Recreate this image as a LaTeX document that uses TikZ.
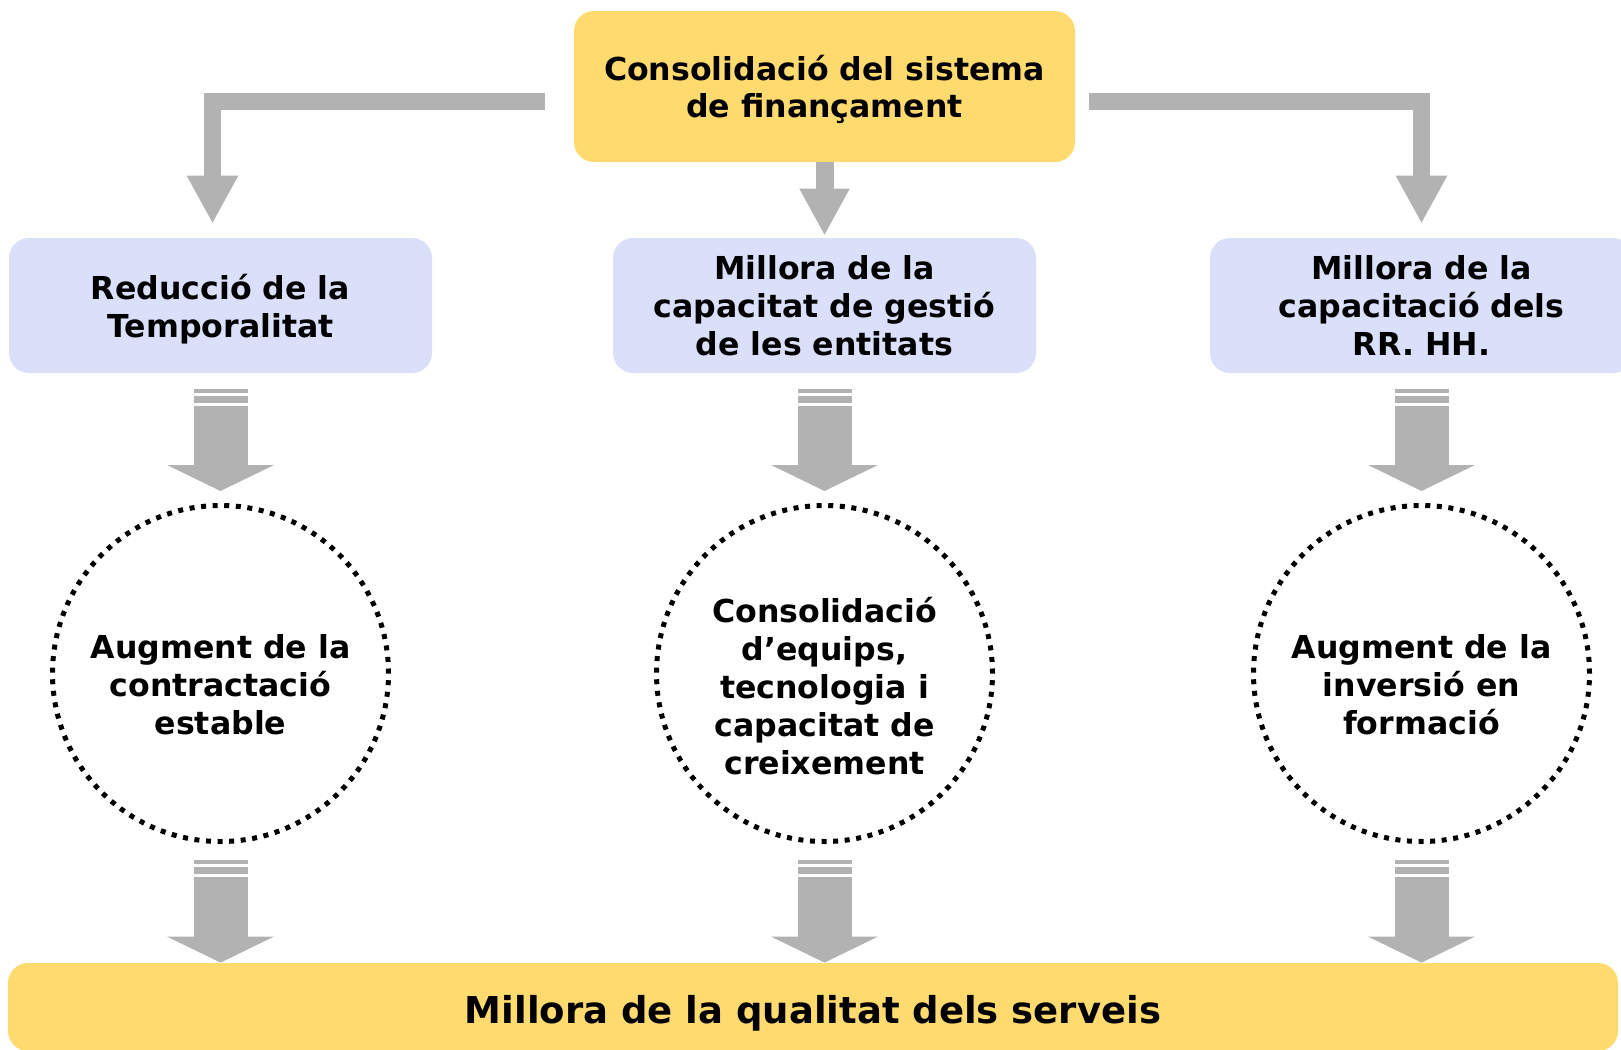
\documentclass[tikz,border=0pt]{standalone}
\usepackage{fontspec}
\setmainfont{DejaVu Sans}
\usetikzlibrary{positioning,arrows.meta}

\definecolor{goalyellow}{HTML}{FFDB6F}
\definecolor{axisblue}{HTML}{DAE0FA}
\definecolor{arrowgray}{HTML}{B2B2B2}

\begin{document}
\begin{tikzpicture}[x = 0.5pt, y = -0.5pt, on grid,
                    font = \bfseries\fontsize{15.8}{19}\selectfont,
                    goal/.style   = {rectangle,
                                     rounded corners = 10pt,
                                     fill = goalyellow,
                                     text = black,
                                     align = center,
                                     inner sep = 0pt,
                                     text depth = 0pt},
                    axis/.style   = {rectangle,
                                     rounded corners = 10pt,
                                     fill = axisblue,
                                     text = black,
                                     align = center,
                                     inner sep = 0pt,
                                     text depth = 0pt,
                                     minimum width = 211.5pt,
                                     minimum height = 67.5pt},
                    effect/.style = {circle,
                                     draw = black,
                                     line width = 2.5pt,
                                     dash pattern = on 2.5pt off 3.3pt,
                                     align = center,
                                     inner sep = 0pt,
                                     text depth = 0pt,
                                     text height = #1,
                                     minimum size = 168pt},
                    bent/.style   = {draw = arrowgray,
                                     line width = 8.5pt,
                                     -{Triangle[width = 24pt, length = 24pt]}},
                    fat/.style    = {draw = arrowgray,
                                     line width = 27pt,
                                     -{Triangle[width = 53pt, length = 13pt]}}]

\useasboundingbox (0,0) rectangle (1621,1049);

\node[goal, minimum width = 250.5pt, minimum height = 75.5pt,
      font = \bfseries\fontsize{15.8}{18.5}\selectfont] (fin) at (824.5,86.5)
     {Consolidació del sistema\\de finançament};

\node[axis] (gest) [below = 109.5pt of fin]  {Millora de la\\capacitat de gestió\\de les entitats};
\node[axis] (temp) [left = 302pt of gest]    {Reducció de la\\Temporalitat};
\node[axis] (rrhh) [right = 298.5pt of gest] {Millora de la\\capacitació dels\\RR. HH.};

\node[effect = 60.8pt]  (aug)  [below = 184pt of temp] {Augment de la\\contractació\\estable};
\node[effect = 100.5pt] (cons) [below = 184pt of gest] {Consolidació\\d’equips,\\tecnologia i\\capacitat de\\creixement};
\node[effect = 60.8pt]  (inv)  [below = 184pt of rrhh] {Augment de la\\inversió en\\formació};

\node[goal, minimum width = 805pt, minimum height = 44pt,
      text height = 20pt, text depth = 4pt,
      font = \bfseries\fontsize{18.5}{22}\selectfont] (qual) at (813,1007)
     {Millora de la qualitat dels serveis};

% arrows from the top
\draw[bent] ([xshift = -14.5pt, yshift = -7.5pt]fin.west) -| ([xshift = -4pt, yshift = 7pt]temp.north);
\draw[bent] ([xshift = 7pt, yshift = -7.5pt]fin.east) -| ([yshift = 7pt]rrhh.north);
\draw[draw = arrowgray, line width = 9pt, -{Triangle[width = 23.5pt, length = 23.5pt]}]
     (fin.south) -- ([yshift = 1pt]gest.north);

% striped arrows
\foreach \from/\to/\gap in {temp/aug/6pt, gest/cons/6pt, rrhh/inv/6pt,
                            aug/aug |- qual.north/0pt, cons/cons |- qual.north/0pt, inv/inv |- qual.north/0pt}
{
  \fill[arrowgray] ([xshift = -13.5pt, yshift = -8pt]\from.south) rectangle ([xshift = 13.5pt, yshift = -10pt]\from.south);
  \fill[arrowgray] ([xshift = -13.5pt, yshift = -11.5pt]\from.south) rectangle ([xshift = 13.5pt, yshift = -15pt]\from.south);
  \draw[fat, shorten > = \gap] ([yshift = -16.5pt]\from.south) -- (\to);
}

\end{tikzpicture}
\end{document}
